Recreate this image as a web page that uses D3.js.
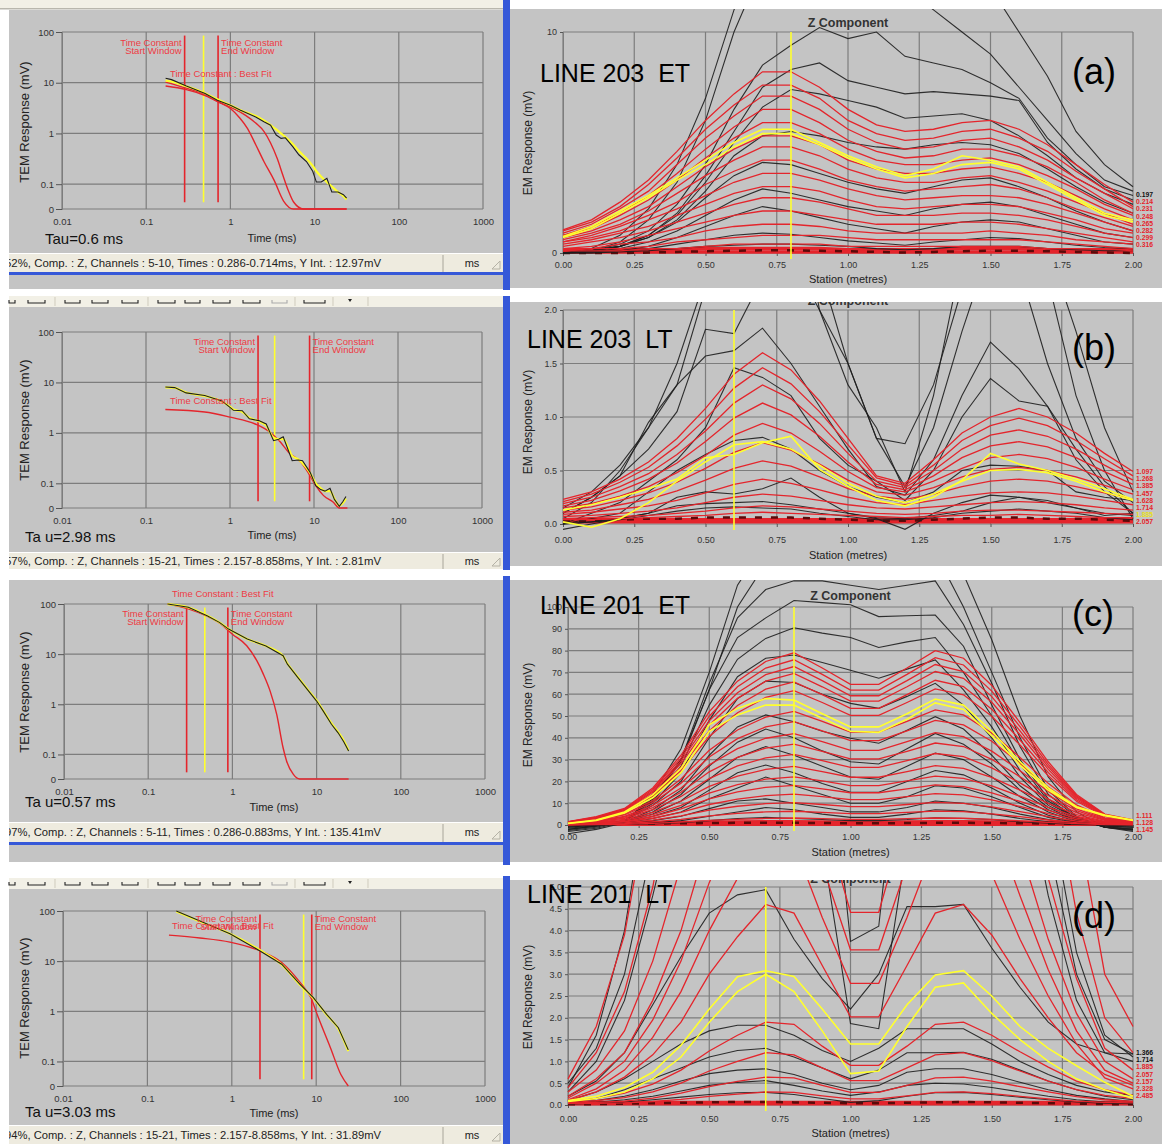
<!DOCTYPE html>
<html><head><meta charset="utf-8">
<script src="https://cdn.jsdelivr.net/npm/d3@7"></script>
<style>
body{margin:0;background:#fff}
svg{display:block}
</style>
</head><body>
<svg id="c" width="1166" height="1144"></svg>
<script>
// ===================== DATA =====================
// ---- left panels (decay curves, log-log) ----
const timeTicks=[0.01,0.1,1,10,100,1000];
const timeTickLabels=["0.01","0.1","1","10","100","1000"];
const respTickLabels=["0","0.1","1","10","100"];
const tauLabels=["Tau=0.6 ms","Ta u=2.98 ms","Ta u=0.57 ms","Ta u=3.03 ms"];
const statusTexts=[
 "52%, Comp. : Z, Channels : 5-10, Times : 0.286-0.714ms, Y Int. : 12.97mV",
 "57%, Comp. : Z, Channels : 15-21, Times : 2.157-8.858ms, Y Int. : 2.81mV",
 "97%, Comp. : Z, Channels : 5-11, Times : 0.286-0.883ms, Y Int. : 135.41mV",
 "94%, Comp. : Z, Channels : 15-21, Times : 2.157-8.858ms, Y Int. : 31.89mV"];
const windowStart=[0.286,2.157,0.286,2.157];
const windowEnd=[0.714,8.858,0.883,8.858];
const bestFitTime=[0.48,3.4,0.47,7.1];

// (a) decay
const decayTimeA=[0.17,0.2,0.3,0.5,0.7,1,1.3,2,2.5,3,3.5,4,4.5,5.5,6.5,8,9.5,10.5,12,14,16,19,22,24];
const decayDataA=[12.3,11.5,8.6,6.1,4.5,3.6,2.9,2.1,1.7,1.45,0.93,0.8,0.82,0.55,0.38,0.28,0.18,0.11,0.11,0.13,0.07,0.07,0.062,0.053];
const decayFitA=[11,10.5,8.5,6.2,4.7,3.6,2.9,2.2,1.8,1.45,1.2,1.0,0.85,0.62,0.45,0.32,0.23,0.18,0.14,0.11,0.09,0.07,0.058,0.05];
const decayRed1TimeA=[0.17,0.3,0.5,0.7,1.0,1.3,1.6,2.0,2.5,3.3,4.3,5.6,8,24];
const decayRed1A=[8.6,7.3,5.6,4.3,3.1,2.0,1.25,0.6,0.28,0.12,0.046,0,0,0];
const decayRed2TimeA=[0.17,0.3,0.5,0.7,1.0,1.5,2.0,2.5,3.0,3.6,4.2,4.9,5.6,7.4,24];
const decayRed2A=[10.3,7.8,5.9,4.3,3.3,2.3,1.6,1.1,0.65,0.32,0.15,0.073,0.045,0,0];
// (b) decay
const decayTimeB=[0.17,0.22,0.3,0.5,0.8,1.0,1.1,1.4,1.7,2.2,2.7,3.3,3.8,4.3,5.5,6.5,7.3,9,10.5,12,13.5,15.5,17.5,20,22,24];
const decayDataB=[8.1,7.9,6.2,5.5,4.3,3.2,2.8,2.75,1.9,1.75,1.5,0.70,0.75,0.84,0.28,0.29,0.28,0.165,0.09,0.075,0.07,0.08,0.048,0.035,0.043,0.055];
const decayFitB=[8.0,7.8,6.3,5.4,4.2,3.3,2.9,2.6,2.0,1.7,1.4,0.8,0.75,0.75,0.35,0.3,0.25,0.16,0.1,0.08,0.07,0.07,0.05,0.036,0.04,0.05];
const decayRedTimeB=[0.17,0.5,1,2,3,4,5,7,9,10.5,13,17,20,25];
const decayRedB=[2.9,2.6,2.05,1.5,1.03,0.65,0.41,0.26,0.14,0.09,0.057,0.042,0,0];
// (c) decay
const decayTimeC=[0.17,0.3,0.5,0.7,0.9,1.5,2.5,4,4.5,6,8,10,12,15,18,21,24];
const decayDataC=[100,86,58,43,31.6,20,14.6,9.3,6.3,3.4,1.85,1.16,0.73,0.40,0.27,0.18,0.117];
const decayFitC=[99,85,59,43,32,20,14.5,9.2,6.5,3.5,1.9,1.2,0.75,0.42,0.28,0.19,0.12];
const decayRedTimeC=[0.17,0.3,0.5,0.7,1.0,1.48,1.95,2.33,2.8,3.36,4.0,4.4,5.3,6.3,24];
const decayRedC=[100,80,57,42,25,14.7,7.4,4.0,1.85,0.63,0.136,0.074,0.04,0,0];
// (d) decay
const decayTimeD=[0.22,0.42,0.95,2.16,3.9,6.4,9.2,13.3,18.3,24];
const decayDataD=[100,63,35,16,8.7,3.5,1.9,0.87,0.47,0.17];
const decayFitD=[98,62,35,16.5,8.5,3.4,1.85,0.85,0.45,0.16];
const decayRedTimeD=[0.18,0.42,0.95,2.16,3.9,6.4,8.6,10.6,14.7,19.6,24];
const decayRedD=[33,29,24,16,9.4,3.8,1.9,0.75,0.19,0.055,0];

// ---- right panels (profiles vs station) ----
const stations=[0,0.1,0.2,0.3,0.4,0.5,0.6,0.7,0.8,0.9,1.0,1.1,1.2,1.3,1.4,1.5,1.6,1.7,1.8,1.9,2.0];
const stationTicks=[0,0.25,0.5,0.75,1,1.25,1.5,1.75,2];
const lineTitles=["LINE 203  ET","LINE 203  LT","LINE 201  ET","LINE 201  LT"];
const panelLetters=["(a)","(b)","(c)","(d)"];
const markerStation=[0.8,0.6,0.8,0.7];

// (a) profiles, mV
const blackA=[
 [0,0.2,0.8,2.0,4.0,7.0,11,14,15,15,15,15,14.5,14,13,12,10,8,5.5,4,3],
 [0,0.1,0.5,1.5,3.2,6.0,10,13,13.5,14,14,13,12,11,10,9,7.5,6.0,4.5,3.3,2.8],
 [0,0.1,0.4,1.0,2.2,4.0,6.5,8.5,9.4,10.2,9.7,10.0,8.9,8.6,8.3,7.7,7.0,5.2,4.0,3.0,2.6],
 [0,0.1,0.3,0.8,1.8,3.5,5.5,7.5,8.3,8.6,7.8,7.5,7.2,7.3,7.2,7.1,6.9,5.0,3.8,2.9,2.4],
 [0,0.1,0.3,0.8,1.7,3.2,5.0,6.6,7.4,7.2,6.9,6.6,6.1,6.2,6.3,6.0,5.3,4.4,3.4,2.7,2.2],
 [0,0.1,0.3,0.7,1.5,2.8,4.4,5.3,5.5,5.3,5.0,4.8,4.7,4.9,5.0,4.9,4.5,3.8,3.0,2.3,1.8],
 [0,0.1,0.3,0.7,1.4,2.5,3.5,4.1,4.0,3.6,3.2,2.9,2.7,3.0,3.3,3.4,3.0,2.5,1.9,1.4,1.0],
 [0,0.05,0.2,0.5,1.0,1.7,2.4,2.9,2.7,2.4,2.1,1.9,1.7,2.0,2.2,2.3,2.1,1.7,1.3,0.9,0.7],
 [0,0.05,0.1,0.3,0.7,1.2,1.7,2.1,1.9,1.6,1.3,1.1,0.9,1.2,1.4,1.5,1.4,1.1,0.8,0.5,0.4],
 [0,0,0.1,0.2,0.4,0.6,0.8,0.9,0.85,0.7,0.55,0.45,0.35,0.5,0.6,0.7,0.65,0.5,0.35,0.25,0.2],
 [0,0,0.05,0.1,0.2,0.3,0.35,0.4,0.4,0.35,0.3,0.2,0.15,0.2,0.3,0.3,0.3,0.2,0.15,0.1,0.1]];
const redA=[
 [1.05,1.5,2.3,3.3,4.6,6.0,7.2,8.2,8.2,7.5,6.5,5.8,5.5,5.6,5.9,6.0,5.6,4.9,4.0,3.1,2.3],
 [1.0,1.4,2.1,3.1,4.3,5.6,6.7,7.6,7.6,7.0,6.0,5.4,5.1,5.2,5.5,5.6,5.2,4.6,3.7,2.9,2.1],
 [0.9,1.3,2.0,2.8,4.0,5.2,6.2,7.1,7.1,6.5,5.6,5.0,4.7,4.8,5.1,5.2,4.8,4.2,3.4,2.7,2.0],
 [0.8,1.2,1.8,2.6,3.6,4.7,5.7,6.5,6.5,5.9,5.1,4.6,4.3,4.4,4.7,4.7,4.4,3.9,3.2,2.4,1.8],
 [0.8,1.1,1.7,2.4,3.3,4.3,5.2,5.9,5.9,5.4,4.7,4.2,4.0,4.0,4.2,4.3,4.0,3.5,2.9,2.2,1.7],
 [0.7,1.0,1.5,2.1,3.0,3.9,4.7,5.3,5.3,4.9,4.2,3.8,3.6,3.6,3.8,3.9,3.6,3.2,2.6,2.0,1.5],
 [0.6,0.9,1.3,1.9,2.7,3.5,4.2,4.8,4.8,4.4,3.8,3.4,3.2,3.2,3.4,3.5,3.2,2.8,2.3,1.8,1.3],
 [0.5,0.8,1.2,1.7,2.3,3.1,3.7,4.2,4.2,3.8,3.3,3.0,2.8,2.9,3.0,3.1,2.9,2.5,2.0,1.6,1.2],
 [0.5,0.7,1.0,1.5,2.0,2.6,3.2,3.6,3.6,3.3,2.9,2.6,2.4,2.5,2.6,2.6,2.5,2.2,1.8,1.4,1.0],
 [0.4,0.6,0.9,1.2,1.7,2.2,2.7,3.0,3.0,2.8,2.4,2.1,2.0,2.1,2.2,2.2,2.1,1.8,1.5,1.1,0.9],
 [0.3,0.5,0.7,1.0,1.4,1.8,2.2,2.5,2.5,2.3,2.0,1.7,1.7,1.7,1.8,1.8,1.7,1.5,1.2,0.9,0.7],
 [0.2,0.3,0.5,0.8,1.1,1.4,1.7,1.9,1.9,1.7,1.5,1.3,1.3,1.3,1.4,1.4,1.3,1.1,0.9,0.7,0.5],
 [0.2,0.2,0.4,0.5,0.7,1.0,1.2,1.3,1.3,1.2,1.0,0.9,0.9,0.9,0.9,1.0,0.9,0.8,0.6,0.5,0.4],
 [0.1,0.2,0.2,0.3,0.5,0.6,0.7,0.8,0.8,0.8,0.7,0.6,0.6,0.6,0.6,0.6,0.6,0.5,0.4,0.3,0.2],
 [0.1,0.1,0.1,0.2,0.2,0.3,0.4,0.4,0.4,0.4,0.3,0.3,0.3,0.3,0.3,0.3,0.3,0.2,0.2,0.2,0.1]];
const yellowA=[
 [0.75,1.2,1.9,2.6,3.4,4.2,5.0,5.6,5.6,5.0,4.4,3.9,3.5,3.8,4.4,4.2,3.9,3.2,2.5,1.8,1.5],
 [0.7,1.1,1.8,2.5,3.3,4.0,4.8,5.4,5.4,4.9,4.3,3.8,3.4,3.6,4.0,4.1,3.8,3.1,2.4,1.7,1.4]];
const baseRedA=[
 [0.15,0.15,0.15,0.15,0.15,0.2,0.2,0.2,0.2,0.2,0.15,0.15,0.15,0.15,0.2,0.2,0.2,0.15,0.15,0.15,0.15],
 [0.05,0.05,0.05,0.05,0.05,0.05,0.05,0.05,0.05,0.05,0.05,0.05,0.05,0.05,0.05,0.05,0.05,0.05,0.05,0.05,0.05]];
const baseBlackA=[[0,0,0,0.02,0.05,0.08,0.1,0.12,0.12,0.1,0.08,0.05,0.02,0.05,0.08,0.1,0.1,0.08,0.05,0.02,0]];
const endLabelsA=["0.197","0.214","0.231","0.248","0.265","0.282","0.299","0.316"];

// (b) profiles, mV
const blackB=[
 [0.15,0.3,0.55,0.9,1.5,2.3,3,3.2,3,2.4,1.5,0.8,0.35,0.9,1.8,2.6,3,2.6,1.8,0.9,0.3],
 [0.1,0.25,0.45,0.95,1.3,2.2,3.5,4,3.5,2.0,1.3,0.9,0.3,1.2,2.5,3.0,3.2,2.3,1.2,0.5,0.05],
 [0.1,0.25,0.45,0.7,1.05,1.82,1.78,2.3,2.5,2.0,1.5,0.8,0.75,1.3,2.2,2.6,2.4,1.5,0.8,0.4,0.2],
 [0.05,0.2,0.5,0.9,1.3,1.57,1.62,1.83,1.5,1.1,0.7,0.35,0.27,0.6,1.2,1.7,1.45,1.1,0.7,0.35,0.1],
 [0.0,0.1,0.2,0.4,0.6,0.9,1.46,1.37,1.2,0.8,0.55,0.4,0.22,0.5,1.0,1.36,1.15,1.1,0.6,0.3,0.1],
 [0,0.05,0.1,0.3,0.5,0.65,0.78,0.81,0.7,0.5,0.35,0.25,0.2,0.3,0.5,0.55,0.54,0.5,0.3,0.25,0.22],
 [-0.05,0.0,0.05,0.1,0.25,0.3,0.28,0.33,0.43,0.25,0.1,0.05,-0.05,0.1,0.2,0.27,0.25,0.22,0.15,0.08,0.1],
 [0,0.02,0.05,0.1,0.17,0.19,0.2,0.21,0.18,0.14,0.1,0.06,0.05,0.08,0.12,0.2,0.25,0.2,0.15,0.1,0.08],
 [0,0.02,0.04,0.08,0.12,0.15,0.16,0.15,0.14,0.1,0.07,0.04,0.04,0.06,0.1,0.12,0.14,0.12,0.1,0.06,0.04]];
const redB=[
 [0.23,0.3,0.42,0.58,0.8,1.08,1.4,1.6,1.44,1.15,0.8,0.45,0.38,0.6,0.85,1.0,1.08,1.0,0.85,0.66,0.49],
 [0.21,0.28,0.39,0.53,0.73,0.98,1.27,1.46,1.31,1.05,0.74,0.43,0.36,0.55,0.78,0.92,0.99,0.92,0.78,0.61,0.45],
 [0.19,0.25,0.35,0.47,0.65,0.87,1.13,1.30,1.17,0.94,0.66,0.40,0.34,0.5,0.7,0.83,0.88,0.82,0.7,0.55,0.41],
 [0.17,0.22,0.31,0.42,0.57,0.77,0.99,1.13,1.02,0.82,0.58,0.37,0.32,0.45,0.62,0.73,0.77,0.72,0.62,0.49,0.37],
 [0.15,0.19,0.26,0.35,0.48,0.64,0.83,0.94,0.85,0.68,0.49,0.34,0.30,0.4,0.52,0.62,0.65,0.61,0.53,0.42,0.32],
 [0.13,0.16,0.22,0.29,0.39,0.52,0.67,0.76,0.69,0.56,0.41,0.3,0.27,0.34,0.44,0.51,0.53,0.5,0.44,0.36,0.28],
 [0.11,0.13,0.18,0.23,0.31,0.41,0.52,0.59,0.54,0.44,0.33,0.26,0.23,0.28,0.35,0.4,0.42,0.4,0.35,0.29,0.23],
 [0.09,0.11,0.14,0.17,0.22,0.29,0.37,0.42,0.38,0.32,0.25,0.2,0.18,0.22,0.26,0.29,0.3,0.29,0.26,0.22,0.18],
 [0.07,0.08,0.1,0.12,0.15,0.2,0.25,0.28,0.26,0.22,0.18,0.15,0.14,0.16,0.18,0.2,0.21,0.2,0.18,0.15,0.13],
 [0.05,0.06,0.07,0.08,0.1,0.12,0.15,0.17,0.16,0.14,0.12,0.1,0.09,0.1,0.12,0.13,0.13,0.12,0.11,0.1,0.09],
 [0.04,0.04,0.05,0.06,0.07,0.08,0.1,0.11,0.1,0.09,0.08,0.07,0.06,0.07,0.08,0.08,0.09,0.08,0.07,0.06,0.06]];
const yellowB=[
 [0.13,0.18,0.25,0.33,0.42,0.62,0.65,0.76,0.82,0.51,0.35,0.22,0.17,0.25,0.41,0.66,0.56,0.5,0.42,0.33,0.23],
 [0.02,-0.03,0.05,0.2,0.4,0.58,0.74,0.77,0.7,0.55,0.38,0.26,0.2,0.28,0.4,0.5,0.51,0.48,0.4,0.3,0.22]];
const baseRedB=[
 [0.04,0.04,0.04,0.04,0.04,0.04,0.04,0.04,0.04,0.04,0.04,0.04,0.04,0.04,0.04,0.04,0.04,0.04,0.04,0.04,0.04],
 [0.02,0.02,0.02,0.02,0.02,0.02,0.02,0.02,0.02,0.02,0.02,0.02,0.02,0.02,0.02,0.02,0.02,0.02,0.02,0.02,0.02]];
const baseBlackB=[[0.03,0.03,0.04,0.05,0.05,0.06,0.06,0.06,0.06,0.05,0.04,0.03,0.03,0.04,0.05,0.06,0.06,0.05,0.05,0.04,0.03]];
const endLabelsB=["1.097","1.268","1.385","1.457","1.628","1.714","1.885","2.057"];

// (c) profiles, mV
const blackC=[
 [-4,-2,1,14,35,70,110,130,140,140,140,140,140,135,115,85,50,22,6,-1,-3],
 [-3,-1.5,1.5,13,30,62,100,120,125,125,122,122,125,125,100,70,40,16,4,-1,-2.5],
 [-2.5,-1,1.8,12,30,65,95,108,112,112,110,108,110,112,92,65,36,14,3.5,-1,-2],
 [-2,-0.5,2,12,29,62,86,95,103,102,101,95.6,96,96.3,82,55,30,12,3,-1,-2],
 [-2,-0.5,2,11,27,55,76,85.6,90.5,88,86,81.4,84,86,70,50,28,11,3,-1,-2],
 [-1.5,-0.3,2,10,24,48,68,76.5,78,74.5,71,67.3,71.5,75.7,62,45,25,10,3,-1,-1.5],
 [-1,0,1.8,9,20,40,58,66,65.4,60,55.8,53.5,59,65,55,40,22,9,2.5,-0.5,-1],
 [-1,0,1.5,7,16,32,45,50.5,47.4,43,39.8,37.5,43.5,49.7,44,32,18,8,2,-0.5,-1],
 [-0.5,0.2,1.4,6,14,27,38,44,40,34,29,28,35,42,37,28,16,7,2,-0.3,-0.5],
 [-0.5,0.2,1.2,5,11,21,31,36,32,27,22,21,27,33,30,22,13,6,1.5,0,-0.3],
 [0,0.2,1,4,8,16,24,27.5,24,19,15,15,20,25,23,17,10,4.5,1.2,0,-0.2],
 [0,0.2,0.8,3,6,12,17,22,18,14,10,10,13,18,17,13,8,3.5,1,0,0],
 [0,0.1,0.5,2,4,7.5,11,12,10,8,6,6,8,11,10,8,5,2.5,0.8,0,0],
 [0,0.1,0.3,1,2,4,6,8,7,5,3.5,3.5,5,7,6.5,5,3,1.5,0.5,0,0],
 [0,0,0.2,0.5,1,2,3,3.5,3,2.5,2,2,2.5,3.3,3,2.5,1.5,0.8,0.3,0,0]];
const redC=[
 [1.5,3.8,7.6,17,32,52,66,75,79,72,64.5,64.5,72,80,76.5,64,47,29,14,5,2.3],
 [1.4,3.6,7.3,16.3,30.7,49.9,63.4,72,75.8,69.1,61.9,61.9,69.1,76.8,73.4,61.4,45.1,27.8,13.4,4.8,2.2],
 [1.4,3.5,7,15.6,29.4,47.8,60.7,69,72.7,66.2,59.3,59.3,66.2,73.6,70.4,58.9,43.2,26.7,12.9,4.6,2.1],
 [1.3,3.3,6.7,15,28.2,45.8,58.1,66,69.5,63.4,56.8,56.8,63.4,70.4,67.3,56.3,41.4,25.5,12.3,4.4,2],
 [1.2,3.2,6.3,14.1,26.6,43.2,54.8,62.3,65.6,59.8,53.5,53.5,59.8,66.4,63.5,53.1,39,24.1,11.6,4.2,1.9],
 [1.2,3,5.9,13.3,25,40.6,51.5,58.5,61.6,56.2,50.3,50.3,56.2,62.4,59.7,49.9,36.7,22.6,10.9,3.9,1.8],
 [1,2.5,5,11.2,21.1,34.3,43.6,49.5,52.1,47.5,42.6,42.6,47.5,52.8,50.5,42.2,31,19.1,9.2,3.3,1.5],
 [0.9,2.3,4.6,10.2,19.2,31.2,39.6,45,47.4,43.2,38.7,38.7,43.2,48,45.9,38.4,28.2,17.4,8.4,3,1.4],
 [0.8,2,4,9,17,27.6,35,39.8,41.9,38.2,34.2,34.2,38.2,42.4,40.5,33.9,24.9,15.4,7.4,2.7,1.2],
 [0.7,1.8,3.6,8,15,24.4,31,35.3,37.1,33.8,30.3,30.3,33.8,37.6,36,30.1,22.1,13.6,6.6,2.4,1.1],
 [0.6,1.6,3.1,7,13.1,21.3,27.1,30.8,32.4,29.5,26.4,26.4,29.5,32.8,31.4,26.2,19.3,11.9,5.7,2.1,0.9],
 [0.5,1.3,2.6,5.8,10.9,17.7,22.4,25.5,26.9,24.5,21.9,21.9,24.5,27.2,26,21.8,16,9.9,4.8,1.7,0.8],
 [0.4,1.1,2.1,4.8,9,14.6,18.5,21,22.1,20.2,18.1,18.1,20.2,22.4,21.4,17.9,13.2,8.1,3.9,1.4,0.6],
 [0.3,0.9,1.7,3.9,7.4,12,15.2,17.3,18.2,16.6,14.8,14.8,16.6,18.4,17.6,14.7,10.8,6.7,3.2,1.2,0.5],
 [0.3,0.7,1.4,3.1,5.8,9.4,11.9,13.5,14.2,13,11.6,11.6,13,14.4,13.8,11.5,8.5,5.2,2.5,0.9,0.4],
 [0.2,0.5,1,2.2,4.2,6.8,8.6,9.8,10.3,9.4,8.4,8.4,9.4,10.4,9.9,8.3,6.1,3.8,1.8,0.7,0.3],
 [0.1,0.3,0.6,1.4,2.6,4.2,5.3,6,6.3,5.8,5.2,5.2,5.8,6.4,6.1,5.1,3.8,2.3,1.1,0.4,0.2],
 [0.1,0.2,0.3,0.7,1.3,2.1,2.6,3,3.2,2.9,2.6,2.6,2.9,3.2,3.1,2.6,1.9,1.2,0.6,0.2,0.1]];
const yellowC=[
 [0.8,2.3,6,13.8,26,46,53.5,58,57.3,51,45,45,51,57.8,55,43,29,17,8.4,4.6,2.3],
 [0.7,2.1,5.5,12.5,24,43,50.5,55,55,49,43,42.5,48.5,56,53,41,27.5,16,8,4.3,2.1]];
const baseRedC=[
 [0.8,0.9,1,1.1,1.2,1.3,1.4,1.5,1.5,1.4,1.3,1.3,1.4,1.5,1.5,1.4,1.3,1.2,1.1,1,0.9],
 [0.3,0.3,0.3,0.3,0.3,0.3,0.3,0.3,0.3,0.3,0.3,0.3,0.3,0.3,0.3,0.3,0.3,0.3,0.3,0.3,0.3]];
const baseBlackC=[[0.5,0.5,0.6,0.7,0.8,0.9,1,1,1,0.9,0.8,0.8,0.9,1,1,0.9,0.8,0.7,0.6,0.5,0.5]];
const endLabelsC=["1.111","1.128","1.145"];

// (d) profiles, mV
const blackD=[
 [0.4,1.6,4.0,8,12,16,19,20,19,16,13,13,16,19,20,17,12,7,3.5,1.6,1.1],
 [0.5,1.3,3.0,6,9.5,13,15,16,14,10,3.75,4.1,10,15,16,14,10,6,3,1.5,1.17],
 [0.3,1.0,2.4,4.8,7.5,10.5,12.5,13,11,6,1.87,1.75,6,11,13,11.5,8,4.8,2.4,1.2,1.0],
 [0.2,0.55,1.2,2.3,3.4,4.4,4.82,4.94,3.8,2.9,2.2,3.0,4.55,4.55,4.6,3.6,2.7,1.9,1.4,1.2,1.17],
 [0.1,0.3,0.6,1.0,1.4,1.7,1.83,1.83,1.6,1.25,1.0,1.3,1.75,1.75,1.75,1.4,1.0,0.7,0.45,0.3,0.22],
 [0.05,0.15,0.35,0.6,0.85,1.1,1.25,1.3,1.1,0.85,0.6,0.8,1.2,1.2,1.21,1.05,0.8,0.55,0.35,0.2,0.12],
 [0.05,0.1,0.2,0.35,0.55,0.72,0.8,0.83,0.7,0.5,0.35,0.45,0.75,0.83,0.83,0.7,0.52,0.35,0.22,0.14,0.08],
 [0.03,0.06,0.12,0.2,0.32,0.45,0.52,0.56,0.45,0.32,0.22,0.3,0.45,0.5,0.48,0.4,0.3,0.2,0.12,0.07,0.05],
 [0.02,0.04,0.07,0.12,0.18,0.24,0.28,0.29,0.24,0.15,0.06,0.1,0.2,0.28,0.29,0.24,0.18,0.12,0.07,0.04,0.03]];
const redD=[
 [0.6,1.8,3.9,7.5,12.6,19.5,25,30,29,21,13,13,21,29,30,25.5,18.6,12,6.6,3,1.8],
 [0.4,1.2,2.6,5,8.4,13,16.8,20,19.2,14,8.8,8.8,14,19.2,20,17,12.4,8,4.4,2,1.2],
 [0.3,0.8,1.7,3.3,5.5,8.5,10.9,13,12.5,9.1,5.7,5.7,9.1,12.5,13,11.1,8.1,5.2,2.9,1.3,0.8],
 [0.2,0.6,1.2,2.4,4,6.2,8,9.5,9.1,6.7,4.42,4.42,6.7,9.1,9.5,8.1,5.9,3.8,2.1,1,0.6],
 [0.16,0.5,1,1.95,3.3,5.1,6.6,7.8,7.5,5.5,3.56,3.56,5.5,7.5,7.8,6.6,4.8,3.1,1.7,0.8,0.5],
 [0.12,0.37,0.8,1.55,2.6,4,5.2,6.2,6,4.3,2.79,2.79,4.3,6,6.2,5.3,3.8,2.5,1.4,0.62,0.37],
 [0.1,0.3,0.64,1.15,1.9,3,3.86,4.6,4.4,3.2,2.02,2.02,3.2,4.4,4.6,3.9,2.9,2.0,1.2,0.7,0.45],
 [0.06,0.15,0.27,0.48,0.8,1.24,1.6,1.9,1.85,1.35,0.91,0.91,1.35,1.85,1.9,1.6,1.22,0.87,0.55,0.35,0.22],
 [0.05,0.1,0.17,0.3,0.5,0.78,1.0,1.2,1.15,0.85,0.56,0.56,0.85,1.15,1.2,1.02,0.78,0.55,0.35,0.22,0.15],
 [0.04,0.06,0.09,0.16,0.27,0.42,0.54,0.64,0.62,0.45,0.29,0.29,0.45,0.62,0.64,0.55,0.42,0.3,0.19,0.12,0.08],
 [0.03,0.04,0.05,0.08,0.13,0.2,0.25,0.3,0.29,0.21,0.14,0.14,0.21,0.29,0.3,0.26,0.2,0.14,0.09,0.06,0.05]];
const yellowD=[
 [0.1,0.2,0.4,0.75,1.37,2.2,2.94,3.08,2.95,2.2,1.4,1.4,2.3,2.98,3.08,2.5,1.8,1.3,0.9,0.52,0.2],
 [0.08,0.15,0.3,0.6,1.1,1.9,2.6,3.0,2.6,1.7,0.72,0.78,1.8,2.7,2.8,2.1,1.5,1.0,0.6,0.35,0.15]];
const baseRedD=[
 [0.06,0.06,0.06,0.06,0.06,0.06,0.06,0.06,0.06,0.06,0.06,0.06,0.06,0.06,0.06,0.06,0.06,0.06,0.06,0.06,0.06],
 [0.03,0.03,0.03,0.03,0.03,0.03,0.03,0.03,0.03,0.03,0.03,0.03,0.03,0.03,0.03,0.03,0.03,0.03,0.03,0.03,0.03]];
const baseBlackD=[[0.02,0.02,0.03,0.04,0.05,0.06,0.07,0.07,0.06,0.05,0.04,0.04,0.05,0.06,0.07,0.06,0.05,0.04,0.03,0.02,0.02]];
const endLabelsD=["1.366","1.714","1.885","2.057","2.157","2.328","2.485"];

// ===================== DRAWING =====================
const FONT="'Liberation Sans', Arial, sans-serif";
const GRAY="#c4c4c4", GRID="#7d7d7d", RED="#e4252c", YEL="#ffff2e", BLK="#1e1e1e", BLUE="#3558d8", STATUS="#eeebdf", CREAM="#f2f0e6";
const FLOOR=0.0324;
const svg=d3.select("#c");
const defs=svg.append("defs");

// window-chrome strips (top of row a, toolbars of rows b and d)
[[0,0,503,9],[9,296,494,11],[9,878,494,11]].forEach(r=>{
  svg.append("rect").attr("x",r[0]).attr("y",r[1]).attr("width",r[2]).attr("height",r[3]).attr("fill",CREAM);
});
svg.append("rect").attr("x",0).attr("y",8).attr("width",503).attr("height",1.5).attr("fill","#b9b7ad");
// toolbar button bottoms and separators
const toolbarRows=[296,878];
const buttonXs=[[9,15],[28,45],[65,80],[92,108],[122,138],[158,175],[185,200],[213,230],[243,260],[272,287],[304,325]];
const sepXs=[55,148,295,333,368];
toolbarRows.forEach(ty=>{
  buttonXs.forEach((b,i)=>{
    const yb=ty+7;
    svg.append("path").attr("d",`M${b[0]},${yb-3}V${yb}H${b[1]}V${yb-3}`).attr("fill","none")
      .attr("stroke",i===9?"#aaa":"#222").attr("stroke-width",1.1);
  });
  sepXs.forEach(sx=>svg.append("line").attr("x1",sx).attr("x2",sx).attr("y1",ty+1).attr("y2",ty+10).attr("stroke","#cfcbbd"));
  svg.append("path").attr("d",`M348,${ty+3}h4l-2,3z`).attr("fill","#222");
});
// blue frame bars
[[503,0,7,290],[503,296,7,274],[503,576,7,289],[503,876,7,268]].forEach(r=>{
  svg.append("rect").attr("x",r[0]).attr("y",r[1]).attr("width",r[2]).attr("height",r[3]).attr("fill",BLUE);
});

const leftCfg=[
 {py:10,pyEnd:253,sh:19,x0:62,x1:483,yTop:32,yBot:209,tauX:45,tauY:244,timeX:272,timeY:242,temY:122,annY:46,bestX:170,bestY:77,below:[272,289]},
 {py:307,pyEnd:552,sh:17,x0:62,x1:482,yTop:332,yBot:508,tauX:25,tauY:542,timeX:272,timeY:539,temY:420,annY:345,bestX:170,bestY:404,below:null},
 {py:580,pyEnd:822,sh:20,x0:64,x1:485,yTop:604,yBot:779,tauX:25,tauY:807,timeX:274,timeY:811,temY:692,annY:617,bestX:172,bestY:597,below:[842,862]},
 {py:889,pyEnd:1125,sh:19,x0:63,x1:485,yTop:911,yBot:1086,tauX:25,tauY:1117,timeX:274,timeY:1117,temY:998,annY:922,bestX:172,bestY:929,below:null}];
const decaySets=[
 {t:decayTimeA,d:decayDataA,f:decayFitA,reds:[[decayRed1TimeA,decayRed1A],[decayRed2TimeA,decayRed2A]]},
 {t:decayTimeB,d:decayDataB,f:decayFitB,reds:[[decayRedTimeB,decayRedB]]},
 {t:decayTimeC,d:decayDataC,f:decayFitC,reds:[[decayRedTimeC,decayRedC]]},
 {t:decayTimeD,d:decayDataD,f:decayFitD,reds:[[decayRedTimeD,decayRedD]]}];

leftCfg.forEach((c,k)=>{
  const g=svg.append("g");
  g.append("rect").attr("x",9).attr("y",c.py).attr("width",494).attr("height",c.pyEnd-c.py).attr("fill",GRAY);
  const x=d3.scaleLog().domain([0.01,1000]).range([c.x0,c.x1]);
  const y=d3.scaleLog().domain([FLOOR,100]).range([c.yBot,c.yTop]).clamp(true);
  const yVals=[FLOOR,0.1,1,10,100];
  g.selectAll(null).data(timeTicks).join("line").attr("x1",d=>x(d)).attr("x2",d=>x(d)).attr("y1",c.yTop).attr("y2",c.yBot).attr("stroke",GRID).attr("stroke-width",1.2);
  g.selectAll(null).data(yVals).join("line").attr("x1",c.x0).attr("x2",c.x1).attr("y1",d=>y(d)).attr("y2",d=>y(d)).attr("stroke",GRID).attr("stroke-width",1.2);
  const ya=g.append("g").attr("transform",`translate(${c.x0},0)`)
    .call(d3.axisLeft(y).tickValues(yVals).tickFormat((d,i)=>respTickLabels[i]).tickSize(6).tickPadding(2));
  ya.select(".domain").attr("stroke",GRID);
  ya.selectAll(".tick line").attr("stroke","#555");
  ya.selectAll("text").attr("font-size",9.5).attr("fill","#333").attr("font-family",FONT);
  const xa=g.append("g").attr("transform",`translate(0,${c.yBot})`)
    .call(d3.axisBottom(x).tickValues(timeTicks).tickFormat((d,i)=>timeTickLabels[i]).tickSize(0).tickPadding(9));
  xa.select(".domain").remove();
  xa.selectAll("text").attr("font-size",9.5).attr("fill","#333").attr("font-family",FONT);

  // window lines
  const vTop=y(85), vBot=y(0.044);
  [[windowStart[k],RED],[windowEnd[k],RED],[bestFitTime[k],YEL]].forEach(w=>{
    g.append("line").attr("x1",x(w[0])).attr("x2",x(w[0])).attr("y1",vTop).attr("y2",vBot).attr("stroke",w[1]).attr("stroke-width",1.6);
  });
  // curves
  const set=decaySets[k];
  const smooth=d3.line().x(d=>x(d[0])).y(d=>y(Math.max(d[1],FLOOR))).curve(d3.curveMonotoneX);
  const straight=d3.line().x(d=>x(d[0])).y(d=>y(Math.max(d[1],FLOOR)));
  set.reds.forEach(r=>{
    g.append("path").attr("d",smooth(r[0].map((t,i)=>[t,r[1][i]]))).attr("fill","none").attr("stroke",RED).attr("stroke-width",1.4);
  });
  g.append("path").attr("d",smooth(set.t.map((t,i)=>[t,set.f[i]]))).attr("fill","none").attr("stroke",YEL).attr("stroke-width",2.2);
  g.append("path").attr("d",straight(set.t.map((t,i)=>[t,set.d[i]]))).attr("fill","none").attr("stroke",BLK).attr("stroke-width",1.1);

  // annotations
  const ann=g.append("g").attr("font-family",FONT).attr("font-size",9.5).attr("fill","#ee3b44");
  ann.append("text").attr("x",x(windowStart[k])-3).attr("y",c.annY).attr("text-anchor","end").text("Time Constant");
  ann.append("text").attr("x",x(windowStart[k])-3).attr("y",c.annY+7.5).attr("text-anchor","end").text("Start Window");
  ann.append("text").attr("x",x(windowEnd[k])+3).attr("y",c.annY).text("Time Constant");
  ann.append("text").attr("x",x(windowEnd[k])+3).attr("y",c.annY+7.5).text("End Window");
  ann.append("text").attr("x",c.bestX).attr("y",c.bestY).text("Time Constant : Best Fit");

  g.append("text").attr("x",c.tauX).attr("y",c.tauY).attr("font-family",FONT).attr("font-size",15).attr("fill","#111").style("white-space","pre").text(tauLabels[k]);
  g.append("text").attr("x",c.timeX).attr("y",c.timeY).attr("text-anchor","middle").attr("font-family",FONT).attr("font-size",11).attr("fill","#222").text("Time (ms)");
  g.append("text").attr("transform",`translate(29,${c.temY}) rotate(-90)`).attr("text-anchor","middle").attr("font-family",FONT).attr("font-size",13).attr("fill","#222").text("TEM Response (mV)");

  // status bar
  const sy=c.pyEnd;
  g.append("rect").attr("x",9).attr("y",sy).attr("width",494).attr("height",c.sh).attr("fill",STATUS);
  g.append("line").attr("x1",9).attr("x2",503).attr("y1",sy+0.5).attr("y2",sy+0.5).attr("stroke","#fff");
  g.append("line").attr("x1",443).attr("x2",443).attr("y1",sy+2).attr("y2",sy+c.sh).attr("stroke","#a8a59a");
  const cid="sclip"+k;
  defs.append("clipPath").attr("id",cid).append("rect").attr("x",9).attr("y",sy).attr("width",432).attr("height",c.sh);
  g.append("text").attr("clip-path",`url(#${cid})`).attr("x",5).attr("y",sy+c.sh/2+4).attr("font-family",FONT).attr("font-size",11)
    .attr("fill","#222").attr("textLength",376).attr("lengthAdjust","spacingAndGlyphs").text(statusTexts[k]);
  g.append("text").attr("x",472).attr("y",sy+c.sh/2+4).attr("text-anchor","middle").attr("font-family",FONT).attr("font-size",11).attr("fill","#222").text("ms");
  g.append("path").attr("d",`M500,${sy+c.sh-3}l-8,0 8,-8z`).attr("fill","none").attr("stroke","#b5b2a6");
  if(c.below){
    g.append("rect").attr("x",9).attr("y",c.below[0]).attr("width",494).attr("height",3).attr("fill",BLUE);
    g.append("rect").attr("x",9).attr("y",c.below[0]+3).attr("width",494).attr("height",c.below[1]-c.below[0]-3).attr("fill",GRAY);
  }
});

// ---------- right panels ----------
const rightCfg=[
 {py:9,pyEnd:288,x0:563,x1:1133,yTop:32,yBot:253,ymax:10,ticks:[0,10],fmt:d=>String(d),pad:6,stY:283,emY:143,zY:27,labX:540,labY:82,letY:84,endY0:197,endStep:7.2,nBlackLab:1},
 {py:302,pyEnd:566,x0:563,x1:1133,yTop:310,yBot:524,ymax:2,ticks:[0,0.5,1,1.5,2],fmt:d3.format(".1f"),pad:10,stY:559,emY:422,zY:305,labX:527,labY:348,letY:360,endY0:474,endStep:7.2,nBlackLab:0},
 {py:580,pyEnd:862,x0:568,x1:1133,yTop:607,yBot:825,ymax:100,ticks:[0,10,20,30,40,50,60,70,80,90,100],fmt:d=>String(d),pad:6,stY:856,emY:715,zY:600,labX:540,labY:614,letY:626,endY0:818,endStep:7.2,nBlackLab:0},
 {py:880,pyEnd:1144,x0:568,x1:1133,yTop:887,yBot:1105,ymax:5,ticks:[0,0.5,1,1.5,2,2.5,3,3.5,4,4.5,5],fmt:d3.format(".1f"),pad:8,stY:1137,emY:997,zY:883,labX:527,labY:903,letY:928,endY0:1055,endStep:7.2,nBlackLab:2}];
const profileSets=[
 {black:blackA,red:redA,yellow:yellowA,baseRed:baseRedA,baseBlack:baseBlackA,labels:endLabelsA},
 {black:blackB,red:redB,yellow:yellowB,baseRed:baseRedB,baseBlack:baseBlackB,labels:endLabelsB},
 {black:blackC,red:redC,yellow:yellowC,baseRed:baseRedC,baseBlack:baseBlackC,labels:endLabelsC},
 {black:blackD,red:redD,yellow:yellowD,baseRed:baseRedD,baseBlack:baseBlackD,labels:endLabelsD}];

rightCfg.forEach((c,k)=>{
  const g=svg.append("g");
  g.append("rect").attr("x",510).attr("y",c.py).attr("width",652).attr("height",c.pyEnd-c.py).attr("fill",GRAY);
  const cid="rclip"+k;
  defs.append("clipPath").attr("id",cid).append("rect").attr("x",510).attr("y",c.py).attr("width",652).attr("height",c.pyEnd-c.py);
  const x=d3.scaleLinear().domain([0,2]).range([c.x0,c.x1]);
  const y=d3.scaleLinear().domain([0,c.ymax]).range([c.yBot,c.yTop]);
  g.selectAll(null).data(stationTicks).join("line").attr("x1",d=>x(d)).attr("x2",d=>x(d)).attr("y1",c.yTop).attr("y2",c.yBot).attr("stroke",GRID).attr("stroke-width",1.2);
  g.selectAll(null).data(c.ticks).join("line").attr("x1",c.x0).attr("x2",c.x1).attr("y1",d=>y(d)).attr("y2",d=>y(d)).attr("stroke",GRID).attr("stroke-width",1.2);
  const ya=g.append("g").attr("transform",`translate(${c.x0},0)`).call(d3.axisLeft(y).tickValues(c.ticks).tickFormat(c.fmt).tickSize(3).tickPadding(3));
  ya.select(".domain").attr("stroke",GRID);
  ya.selectAll(".tick line").attr("stroke","#555");
  ya.selectAll("text").attr("font-size",9).attr("fill","#333").attr("font-family",FONT);
  const xa=g.append("g").attr("transform",`translate(0,${c.yBot})`).call(d3.axisBottom(x).tickValues(stationTicks).tickFormat(d3.format(".2f")).tickSize(3).tickPadding(c.pad));
  xa.select(".domain").remove();
  xa.selectAll(".tick line").attr("stroke","#555");
  xa.selectAll("text").attr("font-size",9).attr("fill","#333").attr("font-family",FONT);

  const set=profileSets[k];
  const ln=d3.line().x((d,i)=>x(stations[i])).y(d=>y(d));
  const lines=g.append("g").attr("clip-path",`url(#${cid})`).attr("fill","none");
  lines.selectAll(null).data(set.baseRed).join("path").attr("d",ln).attr("stroke",RED).attr("stroke-width",3.5);
  lines.selectAll(null).data(set.baseBlack).join("path").attr("d",ln).attr("stroke","#5a0a0a").attr("stroke-width",2.5).attr("stroke-dasharray","7,9");
  lines.selectAll(null).data(set.black).join("path").attr("d",ln).attr("stroke",BLK).attr("stroke-width",1.1).attr("stroke-opacity",0.9);
  lines.selectAll(null).data(set.red).join("path").attr("d",ln).attr("stroke",RED).attr("stroke-width",1.3);
  lines.selectAll(null).data(set.yellow).join("path").attr("d",ln).attr("stroke",YEL).attr("stroke-width",1.6);
  lines.append("line").attr("x1",x(markerStation[k])).attr("x2",x(markerStation[k])).attr("y1",c.yTop).attr("y2",c.yBot+6).attr("stroke",YEL).attr("stroke-width",1.6);
  lines.append("text").attr("x",x(1)).attr("y",c.zY).attr("text-anchor","middle").attr("font-family",FONT).attr("font-weight","bold").attr("font-size",12.5).attr("fill","#333").text("Z Component");

  // end labels
  g.selectAll(null).data(set.labels).join("text").attr("x",c.x1+3).attr("y",(d,i)=>c.endY0+i*c.endStep)
    .attr("font-family",FONT).attr("font-size",6.8).attr("font-weight","bold")
    .attr("fill",(d,i)=>i<c.nBlackLab?"#111":(k===1&&i===6?"#e8e020":RED)).text(d=>d);

  g.append("text").attr("x",c.labX).attr("y",c.labY).attr("font-family",FONT).attr("font-size",25).attr("fill","#000").style("white-space","pre").text(lineTitles[k]);
  g.append("text").attr("x",1072).attr("y",c.letY).attr("font-family",FONT).attr("font-size",36).attr("fill","#000").text(panelLetters[k]);
  g.append("text").attr("x",x(1)).attr("y",c.stY).attr("text-anchor","middle").attr("font-family",FONT).attr("font-size",11).attr("fill","#222").text("Station (metres)");
  g.append("text").attr("transform",`translate(532,${c.emY}) rotate(-90)`).attr("text-anchor","middle").attr("font-family",FONT).attr("font-size",12).attr("fill","#222").text("EM Response (mV)");
});
</script>
</body></html>
